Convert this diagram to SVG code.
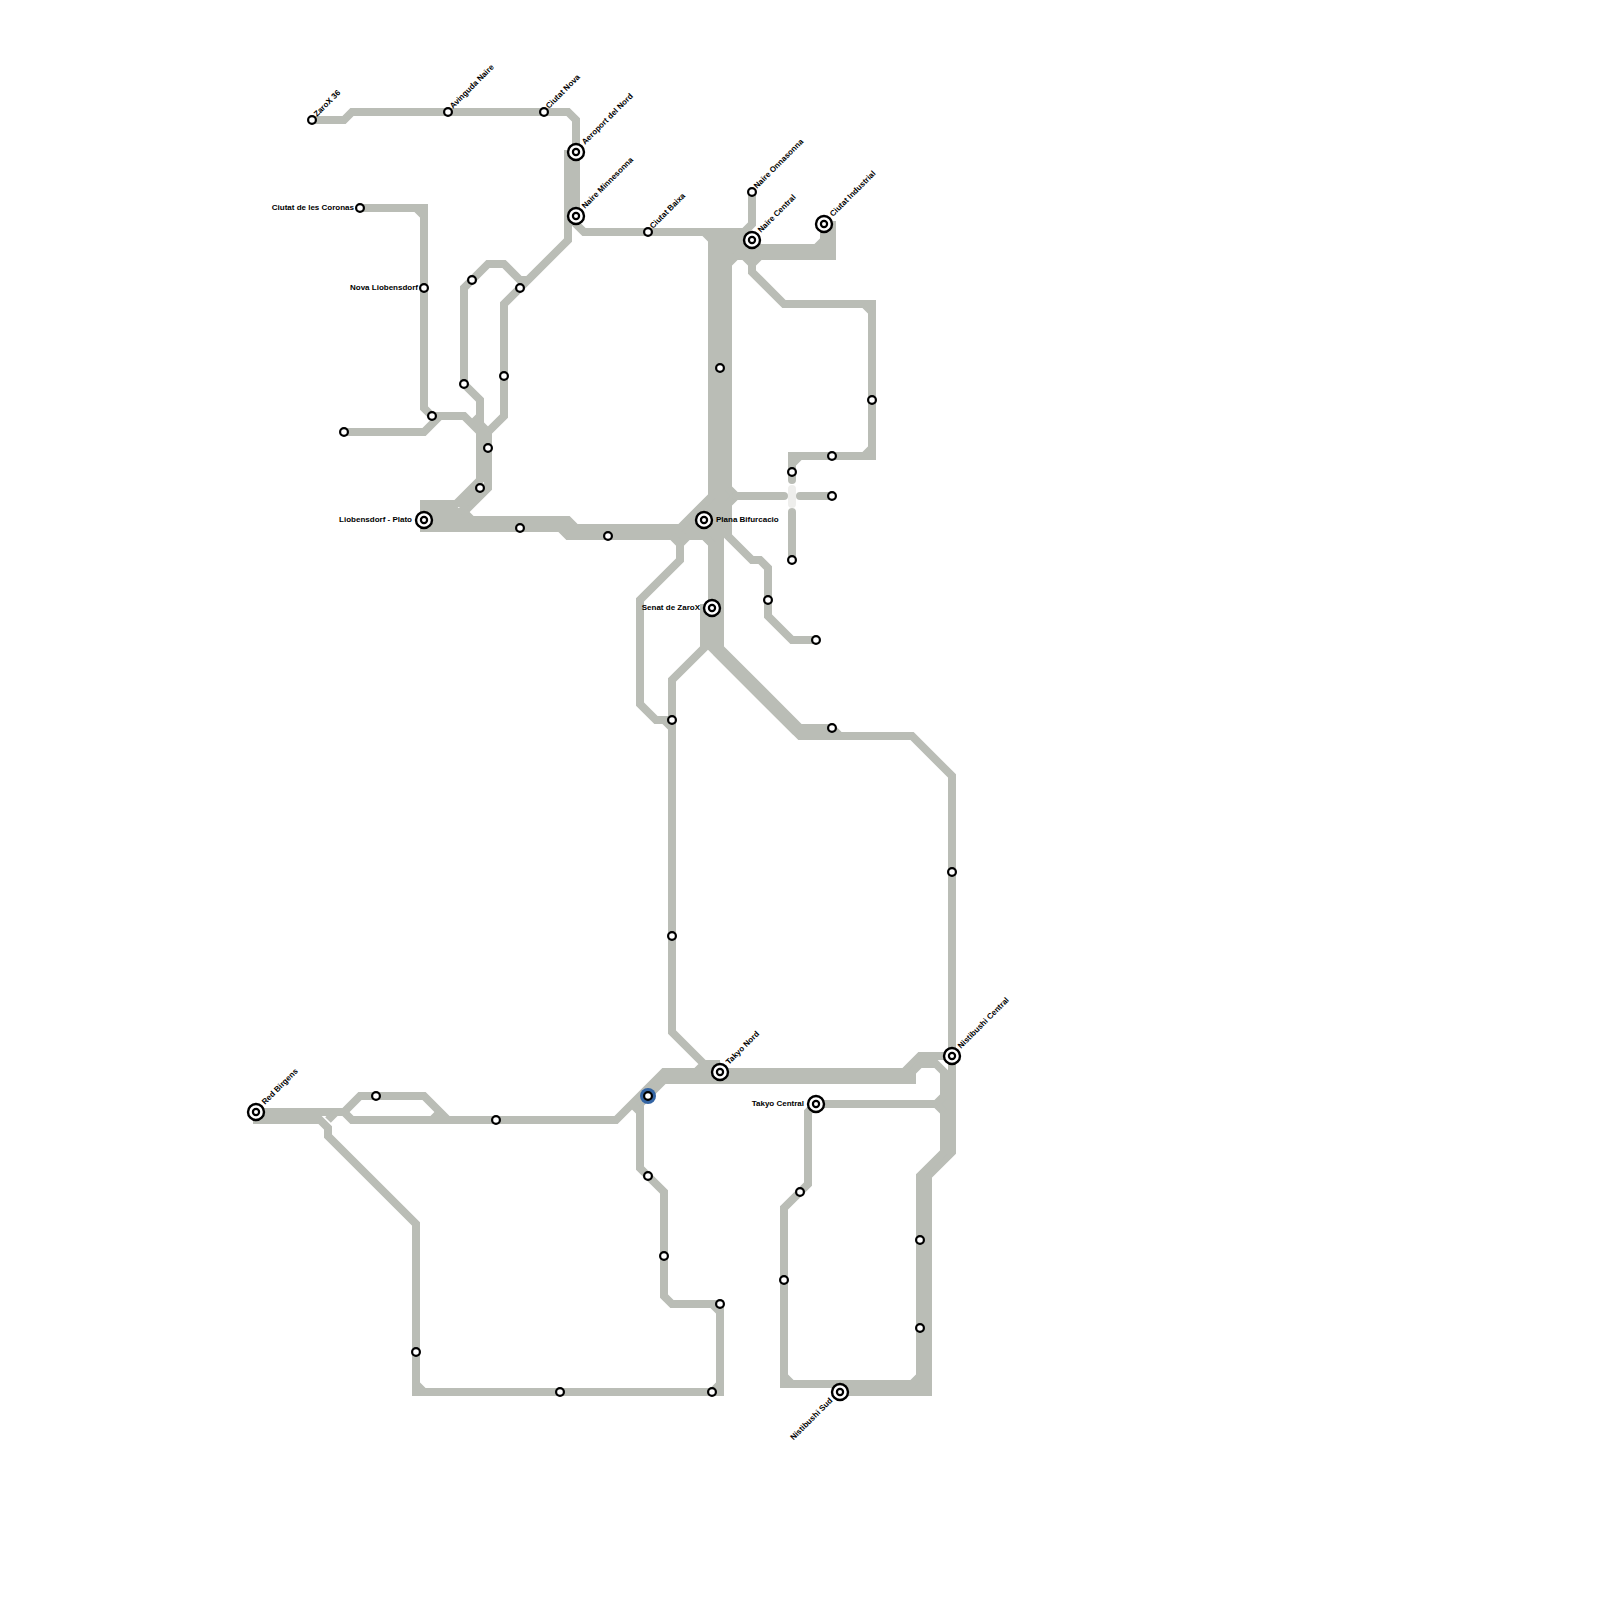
<svg xmlns="http://www.w3.org/2000/svg" width="1600" height="1600" viewBox="0 0 1600 1600">
<style>
.l{fill:none;stroke:#babdb6;stroke-width:8}
.r{fill:none;stroke:#babdb6;stroke-width:8;stroke-linecap:round}
.p{fill:none;stroke:#eeeeec;stroke-width:8;stroke-linecap:round}
.f{fill:#babdb6}
.s{fill:#fff;stroke:#000;stroke-width:2.2}
.o{fill:#fff;stroke:#000;stroke-width:2.4}
.t{font-family:"Liberation Sans",Arial,sans-serif;font-size:8px;font-weight:bold;fill:#000}
.e{text-anchor:end}
</style>
<defs>
<g id="st"><circle class="s" r="3.9"/></g>
<g id="ic"><circle class="o" r="8"/><circle class="s" r="3.1"/></g>
</defs>
<rect width="1600" height="1600" fill="#fff"/>
<g id="connectors">
<path class="f" d="M712 496H716V548H708V545L703 540V532H676L684 524Z"/>
<path class="l" d="M312 120H344L352 112H568L576 120V224L584 232H700M704 232L712 240V496L680 528H576L568 520H420"/>
<path class="l" d="M568 150V240L504 304V416L488 432V488L464 512H420"/>
<path class="l" d="M360 208H424V408L432 416H464L480 432V480L456 504H420M416 208L424 216"/>
<path class="l" d="M344 432H424L440 416"/>
<path class="l" d="M480 432V400L464 384V288L488 264H504L520 280H528"/>
<path class="l" d="M472 424L480 416M480 424L488 432M464 512L472 520M484 484L460 508"/>
<path class="l" d="M420 528H560L568 536H704L712 544V648L800 736H912L952 776V1152L928 1176V1392H840M560 528H576"/>
<path class="l" d="M720 232V648L800 728H832L840 736M716 652L796 732"/>
<path class="l" d="M728 232V536L752 560H760L768 568V616L792 640H816"/>
<path class="l" d="M728 488L736 496L728 504"/>
<path class="r" d="M736 496H784M800 496H832M792 512V560"/>
<path class="r" d="M752 260V272L784 304H872V456H792V480"/>
<path class="l" d="M864 304L872 312M872 448L864 456M800 456L792 464"/>
<path class="p" d="M792 489V504"/>
<path class="l" d="M752 192V224L744 232H700M712 240H752M712 248H832M816 248L824 240M824 224V248M712 256H832V221"/>
<path class="l" d="M736 256L728 264M744 256L752 264M760 256L752 264"/>
<path class="l" d="M672 536L680 544L688 536M680 544V560L640 600V704L656 720H672M664 720L672 728"/>
<path class="l" d="M704 604V648L672 680V1032L704 1064H720M696 1072L704 1064"/>
<path class="l" d="M253 1112H344L360 1096H424L448 1120H616L664 1072H912M904 1072L920 1056H952"/>
<path class="l" d="M253 1120H320L328 1128V1136L416 1224V1392H720V1304H672L664 1296V1192L640 1168V1104L664 1080H912V1072L920 1064H936L944 1072V1152L920 1176V1384H784V1208L808 1184V1112L816 1104H936"/>
<path class="l" d="M344 1112L352 1120H448M432 1120L440 1112M336 1112L328 1120M632 1104L640 1112"/>
<path class="l" d="M936 1104L944 1096M936 1104L944 1112"/>
<path class="l" d="M416 1384L424 1392M720 1384L712 1392M712 1304L720 1312M920 1376L912 1384M784 1376L792 1384"/>
</g>
<g id="n-zarox36"><use href="#st" x="312" y="120"/><text class="t" transform="translate(317 117) rotate(-45)">ZaroX 36</text></g>
<g id="n-avinguda"><use href="#st" x="448" y="112"/><text class="t" transform="translate(453 109) rotate(-45)">Avinguda Naire</text></g>
<g id="n-ciutatnova"><use href="#st" x="544" y="112"/><text class="t" transform="translate(549 109) rotate(-45)">Ciutat Nova</text></g>
<g id="n-aeroport"><use href="#ic" x="576" y="152"/><text class="t" transform="translate(585 145) rotate(-45)">Aeroport del Nord</text></g>
<g id="n-minnesonna"><use href="#ic" x="576" y="216"/><text class="t" transform="translate(585 209) rotate(-45)">Naire Minnesonna</text></g>
<g id="n-coronas"><use href="#st" x="360" y="208"/><text class="t e" x="354" y="210">Ciutat de les Coronas</text></g>
<g id="n-novalio"><use href="#st" x="424" y="288"/><text class="t e" x="418" y="290">Nova Liobensdorf</text></g>
<g id="n-a1"><use href="#st" x="344" y="432"/></g>
<g id="n-a2"><use href="#st" x="432" y="416"/></g>
<g id="n-a3"><use href="#st" x="464" y="384"/></g>
<g id="n-a4"><use href="#st" x="472" y="280"/></g>
<g id="n-a5"><use href="#st" x="520" y="288"/></g>
<g id="n-a6"><use href="#st" x="504" y="376"/></g>
<g id="n-a7"><use href="#st" x="488" y="448"/></g>
<g id="n-a8"><use href="#st" x="480" y="488"/></g>
<g id="n-plato"><use href="#ic" x="424" y="520"/><text class="t e" x="412" y="522">Liobensdorf - Plato</text></g>
<g id="n-a9"><use href="#st" x="520" y="528"/></g>
<g id="n-a10"><use href="#st" x="608" y="536"/></g>
<g id="n-plana"><use href="#ic" x="704" y="520"/><text class="t" x="716" y="522">Plana Bifurcacio</text></g>
<g id="n-senat"><use href="#ic" x="712" y="608"/><text class="t e" x="700" y="610">Senat de ZaroX</text></g>
<g id="n-a11"><use href="#st" x="792" y="472"/></g>
<g id="n-a12"><use href="#st" x="832" y="456"/></g>
<g id="n-a13"><use href="#st" x="832" y="496"/></g>
<g id="n-a14"><use href="#st" x="792" y="560"/></g>
<g id="n-a15"><use href="#st" x="768" y="600"/></g>
<g id="n-a16"><use href="#st" x="816" y="640"/></g>
<g id="n-a17"><use href="#st" x="832" y="728"/></g>
<g id="n-a18"><use href="#st" x="672" y="720"/></g>
<g id="n-baixa"><use href="#st" x="648" y="232"/><text class="t" transform="translate(653 229) rotate(-45)">Ciutat Baixa</text></g>
<g id="n-onnasonna"><use href="#st" x="752" y="192"/><text class="t" transform="translate(757 189) rotate(-45)">Naire Onnasonna</text></g>
<g id="n-nairecentral"><use href="#ic" x="752" y="240"/><text class="t" transform="translate(761 233) rotate(-45)">Naire Central</text></g>
<g id="n-industrial"><use href="#ic" x="824" y="224"/><text class="t" transform="translate(833 217) rotate(-45)">Ciutat Industrial</text></g>
<g id="n-a19"><use href="#st" x="720" y="368"/></g>
<g id="n-a20"><use href="#st" x="872" y="400"/></g>
<g id="n-nistcentral"><use href="#ic" x="952" y="1056"/><text class="t" transform="translate(961 1049) rotate(-45)">Nistibushi Central</text></g>
<g id="n-takyocentral"><use href="#ic" x="816" y="1104"/><text class="t e" x="804" y="1106">Takyo Central</text></g>
<g id="n-a21"><use href="#st" x="800" y="1192"/></g>
<g id="n-takyonord"><use href="#ic" x="720" y="1072"/><text class="t" transform="translate(729 1065) rotate(-45)">Takyo Nord</text></g>
<g id="n-blue"><circle cx="648" cy="1096" r="8" fill="#3465a4"/><use href="#st" x="648" y="1096"/></g>
<g id="n-a22"><use href="#st" x="648" y="1176"/></g>
<g id="n-a23"><use href="#st" x="672" y="936"/></g>
<g id="n-a24"><use href="#st" x="952" y="872"/></g>
<g id="n-a25"><use href="#st" x="496" y="1120"/></g>
<g id="n-a26"><use href="#st" x="376" y="1096"/></g>
<g id="n-red"><use href="#ic" x="256" y="1112"/><text class="t" transform="translate(265 1105) rotate(-45)">Red Birgens</text></g>
<g id="n-a27"><use href="#st" x="664" y="1256"/></g>
<g id="n-a28"><use href="#st" x="720" y="1304"/></g>
<g id="n-a29"><use href="#st" x="712" y="1392"/></g>
<g id="n-a30"><use href="#st" x="560" y="1392"/></g>
<g id="n-a31"><use href="#st" x="416" y="1352"/></g>
<g id="n-a32"><use href="#st" x="784" y="1280"/></g>
<g id="n-a33"><use href="#st" x="920" y="1240"/></g>
<g id="n-a34"><use href="#st" x="920" y="1328"/></g>
<g id="n-nistsud"><use href="#ic" x="840" y="1392"/><text class="t e" transform="translate(833 1401) rotate(-45)">Nistibushi Sud</text></g>
</svg>
